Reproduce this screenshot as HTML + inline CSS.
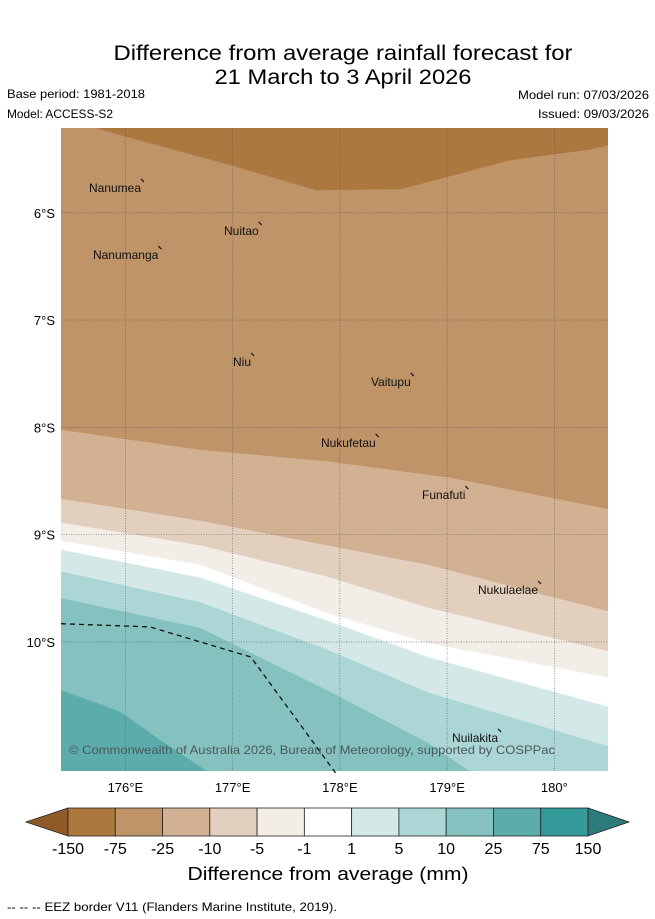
<!DOCTYPE html>
<html><head><meta charset="utf-8"><style>
html,body{margin:0;padding:0;background:#fff;}
svg{display:block;font-family:"Liberation Sans","DejaVu Sans",sans-serif;}
</style></head><body>
<svg id="c" width="655" height="919" viewBox="0 0 655 919">
<text x="343" y="60" font-size="21" text-anchor="middle" textLength="459" lengthAdjust="spacingAndGlyphs">Difference from average rainfall forecast for</text>
<text x="343" y="84" font-size="21" text-anchor="middle" textLength="257" lengthAdjust="spacingAndGlyphs">21 March to 3 April 2026</text>
<text x="7" y="98" font-size="12" textLength="138" lengthAdjust="spacingAndGlyphs">Base period: 1981-2018</text>
<text x="7" y="118" font-size="12" textLength="106" lengthAdjust="spacingAndGlyphs">Model: ACCESS-S2</text>
<text x="649" y="99" font-size="12" text-anchor="end" textLength="131" lengthAdjust="spacingAndGlyphs">Model run: 07/03/2026</text>
<text x="649" y="118" font-size="12" text-anchor="end" textLength="111" lengthAdjust="spacingAndGlyphs">Issued: 09/03/2026</text>
<defs><clipPath id="mapclip"><rect x="61" y="128" width="547" height="643"/></clipPath></defs>
<g id="map" clip-path="url(#mapclip)"></g>
<g id="over"></g>
<g id="cbar"></g>
<text x="328" y="880" font-size="18" text-anchor="middle" textLength="281" lengthAdjust="spacingAndGlyphs">Difference from average (mm)</text>
<text x="7" y="911" font-size="12" textLength="330" lengthAdjust="spacingAndGlyphs">-- -- -- EEZ border V11 (Flanders Marine Institute, 2019).</text>
</svg>
<script>
// ---- data ----
const levels = [-150,-75,-25,-10,-5,-1,1,5,10,25,75,150];
const levelColors = ["#ad7840","#bf9468","#d2b193","#e3cfbd","#f2ede7","#ffffff","#d5e8e8","#acd6d5","#84c1bf","#5cacab","#349b9a"];
const underColor = "#8f5a28", overColor = "#2e7b7b";
const lonTicks = [176,177,178,179,180];
const lonLabels = ["176°E","177°E","178°E","179°E","180°"];
const latTicks = [-6,-7,-8,-9,-10];
const latLabels = ["6°S","7°S","8°S","9°S","10°S"];
const bMinus75Lon = [175.73,176.0,176.92,177.78,178.57,179.59,180.34,180.6];
const bMinus75Lat = [-5.21,-5.29,-5.54,-5.79,-5.78,-5.51,-5.41,-5.35];
const bMinus25Lon = [175.3,176.7,177.91,179.03,180.6];
const bMinus25Lat = [-8.01,-8.21,-8.32,-8.47,-8.78];
const bMinus10Lon = [175.3,176.7,177.88,178.82,180.6];
const bMinus10Lat = [-8.65,-8.87,-9.10,-9.28,-9.74];
const bMinus5Lon = [175.3,176.7,177.88,178.82,180.6];
const bMinus5Lat = [-8.87,-9.10,-9.39,-9.68,-10.11];
const bMinus1Lon = [175.3,176.7,177.88,178.82,180.6];
const bMinus1Lat = [-9.04,-9.28,-9.73,-10.01,-10.35];
const b1Lon = [175.3,176.7,177.88,178.82,180.6];
const b1Lat = [-9.12,-9.40,-9.80,-10.14,-10.63];
const b5Lon = [175.3,176.7,177.88,178.82,180.6];
const b5Lat = [-9.32,-9.63,-10.07,-10.47,-11.0];
const b10Lon = [175.3,176.7,177.88,178.82,179.22,179.4];
const b10Lat = [-9.57,-9.87,-10.45,-10.94,-11.21,-11.4];
const b25Lon = [175.3,175.95,176.32,176.77,176.9];
const b25Lat = [-10.41,-10.65,-10.91,-11.21,-11.35];
const eezLon = [175.4,176.23,177.17,177.96];
const eezLat = [-9.83,-9.86,-10.14,-11.22];
const islandNames = ["Nanumea","Nuitao","Nanumanga","Niu","Vaitupu","Nukufetau","Funafuti","Nukulaelae","Nuilakita"];
const islandLon = [175.661,176.92,175.698,177.004,178.29,177.824,178.766,179.288,179.046];
const islandLat = [-5.806,-6.207,-6.431,-7.428,-7.614,-8.183,-8.668,-9.553,-10.932];

// ---- scales ----
const X = lon => 61 + (lon - 175.4) * 107.25;
const Y = lat => 128 + (-lat - 5.21) * 107.3;
const NS = "http://www.w3.org/2000/svg";
function mk(tag, attrs, parent){ const e=document.createElementNS(NS,tag); for(const k in attrs) e.setAttribute(k,attrs[k]); parent.appendChild(e); return e; }
const mapG = document.getElementById('map'), overG=document.getElementById('over'), cbarG=document.getElementById('cbar');

const bgRect = mk('rect',{x:61,y:128,width:547,height:643,fill:levelColors[1]},mapG);


function pts(lons,lats){ return lons.map((l,i)=>X(l).toFixed(1)+','+Y(lats[i]).toFixed(1)); }
const topBand = mk('polygon',{points:pts(bMinus75Lon,bMinus75Lat).concat(['700,100','40,100']).join(' '),fill:levelColors[0]},mapG);


const belowBands = [[bMinus25Lon,bMinus25Lat,2,'band-minus25-to-minus10'],[bMinus10Lon,bMinus10Lat,3,'band-minus10-to-minus5'],[bMinus5Lon,bMinus5Lat,4,'band-minus5-to-minus1'],[bMinus1Lon,bMinus1Lat,5,'band-minus1-to-1'],[b1Lon,b1Lat,6,'band-1-to-5'],[b5Lon,b5Lat,7,'band-5-to-10'],[b10Lon,b10Lat,8,'band-10-to-25'],[b25Lon,b25Lat,9,'band-25-to-75']];
belowBands.forEach(b=>{
  const closing = b[2]>=8 ? ['40,800'] : ['700,800','40,800'];
  const p = mk('polygon',{points:pts(b[0],b[1]).concat(closing).join(' '),fill:levelColors[b[2]]},mapG);
  
  
});
lonTicks.forEach((l,i)=>{
  const g = mk('line',{x1:X(l),x2:X(l),y1:128,y2:771,stroke:'#555','stroke-width':0.7,'stroke-dasharray':'1,1.5',opacity:0.8},overG);
  
  
  const t = mk('text',{x:X(l),y:792,'font-size':13,'text-anchor':'middle'},overG);
  t.textContent = lonLabels[i];
  
  
});
latTicks.forEach((l,i)=>{
  const g = mk('line',{x1:61,x2:608,y1:Y(l),y2:Y(l),stroke:'#555','stroke-width':0.7,'stroke-dasharray':'1,1.5',opacity:0.8},overG);
  
  
  const t = mk('text',{x:55,y:Y(l)+5,'font-size':13,'text-anchor':'end'},overG);
  t.textContent = latLabels[i];
  
  
});
const eezLine = mk('polyline',{points:pts(eezLon,eezLat).join(' '),fill:'none',stroke:'#111','stroke-width':1.3,'stroke-dasharray':'5,4'},overG);


islandNames.forEach((n,i)=>{
  const t = mk('text',{x:X(islandLon[i]),y:Y(islandLat[i]),'font-size':12,fill:'#111'},overG);
  t.textContent = n;
  
  
  const w = t.getComputedTextLength ? t.getComputedTextLength() : 50;
  const m = mk('line',{x1:X(islandLon[i])+w,y1:Y(islandLat[i])-13,x2:X(islandLon[i])+w+3,y2:Y(islandLat[i])-10,stroke:'#111','stroke-width':1.2},overG);
  
  
});
const cpText = mk('text',{x:69,y:754,'font-size':12,fill:'#4a5a5a',textLength:486,lengthAdjust:'spacingAndGlyphs'},overG);
cpText.textContent = "© Commonwealth of Australia 2026, Bureau of Meteorology, supported by COSPPac";


const cx0=68, cx1=588, cy0=808, cy1=836, cw=(cx1-cx0)/levelColors.length;
const ltArrow = mk('polygon',{points:`${cx0},${cy0} 26,822 ${cx0},${cy1}`,fill:underColor,stroke:'#222','stroke-width':0.8},cbarG);


const rtArrow = mk('polygon',{points:`${cx1},${cy0} 629,822 ${cx1},${cy1}`,fill:overColor,stroke:'#222','stroke-width':0.8},cbarG);


levelColors.forEach((c,i)=>{
  const r = mk('rect',{x:cx0+i*cw,y:cy0,width:cw,height:cy1-cy0,fill:c,stroke:'#222','stroke-width':0.8},cbarG);
  
  
});
levels.forEach((v,i)=>{
  const t = mk('text',{x:cx0+i*cw,y:854,'font-size':16,'text-anchor':'middle'},cbarG);
  t.textContent = String(v);
  
  
});
</script>
</body></html>
